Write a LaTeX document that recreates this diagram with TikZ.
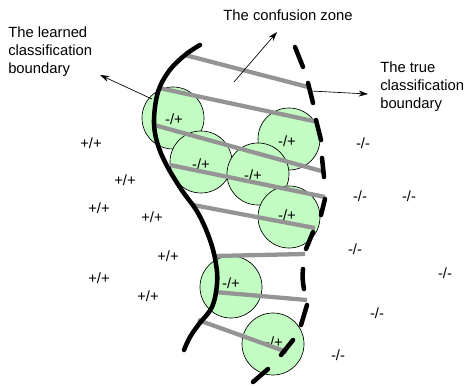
\documentclass[tikz,border=0pt]{standalone}
\usepackage{fontspec}
\setmainfont{Liberation Sans}
\usetikzlibrary{arrows.meta}
\definecolor{zonegreen}{RGB}{194,252,194}
\definecolor{bargray}{RGB}{148,148,148}
\begin{document}
\begin{tikzpicture}[x=0.75pt,y=-0.75pt,
  txt/.style={font=\fontsize{11.1}{13.5}\selectfont,inner sep=0pt},
  lbl/.style={txt,align=left,anchor=west},
  blob/.style={circle,draw=black,line width=0.5pt,fill=zonegreen,minimum size=46.5pt,inner sep=0pt},
  bar/.style={draw=bargray,line width=3.2pt},
  solidb/.style={draw=black,line width=3.4pt,line cap=round},
  dashb/.style={draw=black,line width=3.4pt,line cap=round},
  pointer/.style={draw=black,line width=0.5pt,-{Stealth[length=7pt,width=4.5pt]}}]
\useasboundingbox (0,0) rectangle (466,385);
% circles
\node[blob] (c1) at (173,118) {};
\node[blob] (c2) at (289,139) {};
\node[blob] (c3) at (201,162) {};
\node[blob] (c4) at (258,174) {};
\node[blob] (c5) at (289,217) {};
\node[blob] (c6) at (231,287) {};
\node[blob] (c7) at (273,344) {};
% circle labels
\node[txt] (l1) at (174,119) {-/+};
\node[txt] (l2) at (287,141) {-/+};
\node[txt] (l3) at (201,164) {-/+};
\node[txt] (l4) at (253,175) {-/+};
\node[txt] (l5) at (287,215) {-/+};
\node[txt] (l6) at (231,283) {-/+};
\node[txt] (l7) at (274,342) {-/+};
% gray bars of the confusion zone
\draw[bar] (185,55) -- (308,87);
\draw[bar] (159,88) -- (318,122);
\draw[bar] (154,125) -- (325,172);
\draw[bar] (170,165) -- (325,197);
\draw[bar] (193,205) -- (315,228);
\draw[bar] (215,256) -- (305,254);
\draw[bar] (215,292) -- (307,300);
\draw[bar] (198,320) -- (287,352);
% learned boundary
\draw[solidb] plot[smooth,tension=0.6] coordinates {(200,45) (185,55) (169,71) (158,92) (154,120) (157,142) (166,164) (181,189) (198,213) (210,240) (216,264) (217,284) (212,307) (199,324) (190,337) (184,350)};
% true boundary (dashed)
\draw[dashb] (295,47) -- (303,67);
\draw[dashb] (308,83) -- (313,103);
\draw[dashb] (316,120) -- (321,140);
\draw[dashb] (322,158) -- (324,177);
\draw[dashb] (325,199) -- (321,215);
\draw[dashb] (313,232) -- (306,249);
\draw[dashb] (303,269) to[bend right=8] (304,289);
\draw[dashb] (307,305) -- (301,325);
\draw[dashb] (293,340) -- (281,355);
\draw[dashb] (268,369) -- (253,382);
% titles
\node[txt] (zone) at (288,15) {The confusion zone};
\node[lbl] (learned) at (8,52) {The learned\\classification\\boundary};
\node[lbl] (true) at (380,87) {The true\\classification\\boundary};
% pointers
\coordinate (zs) at (234,82);
\coordinate (zt) at (277,32);
\coordinate (ls) at (152,99);
\coordinate (lt) at (100,75);
\coordinate (ts) at (311,91);
\coordinate (tt) at (368,94);
\draw[pointer] (zs) -- (zt);
\draw[pointer] (ls) -- (lt);
\draw[pointer] (ts) -- (tt);
% class marks
\foreach \p in {(91,143),(125,180),(99,208),(152,217),(168,256),(99,278),(148,296)}
  \node[txt] at \p {+/+};
\foreach \p in {(363,143),(360,196),(409,196),(355,249),(445,273),(377,313),(338,355)}
  \node[txt] at \p {-/-};
\end{tikzpicture}
\end{document}
